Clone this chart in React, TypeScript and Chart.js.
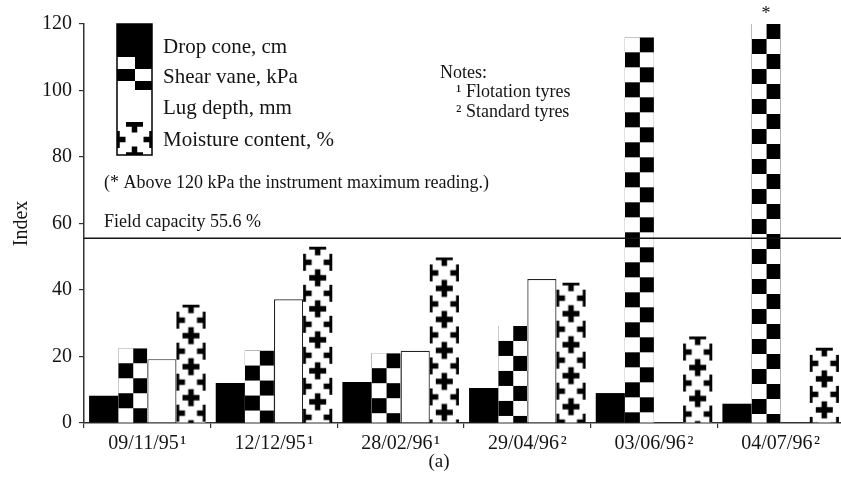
import { useEffect, useRef } from "react";
import { Chart, registerables } from "chart.js";

Chart.register(...registerables);

const categories = ["09/11/95\u200a\u00b9", "12/12/95\u200a\u00b9", "28/02/96\u200a\u00b9", "29/04/96\u200a\u00b2", "03/06/96\u200a\u00b2", "04/07/96\u200a\u00b2"];
const seriesNames = ["Drop cone, cm", "Shear vane, kPa", "Lug depth, mm", "Moisture content, %"];
const dropCone = [8.2, 12.0, 12.3, 10.5, 9.0, 5.8];
const shearVane = [22.5, 21.8, 21.0, 29.2, 116.0, 120.0];
const lugDepth = [19.2, 37.2, 21.7, 43.3, 0, 0];
const moistureContent = [35.6, 53.0, 49.8, 42.2, 26.0, 22.6];
const fieldCapacity = 55.6;
const fieldCapacityLabel = "Field capacity 55.6 %";
const footnoteText = "(* Above 120 kPa the instrument maximum reading.)";
const notesLines = ["Notes:", "\u00b9 Flotation tyres", "\u00b2 Standard tyres"];
const yTicks = [0, 20, 40, 60, 80, 100, 120];
const yTitle = "Index";
const panelLabel = "(a)";

const FONT = "'Liberation Serif', 'Times New Roman', serif";
const INK = "#141414";

function makeChecker(w: number, h: number) {
  const c = document.createElement("canvas");
  c.width = w;
  c.height = h;
  const g = c.getContext("2d")!;
  g.fillStyle = "#fff";
  g.fillRect(0, 0, w, h);
  g.fillStyle = "#000";
  const hw = Math.round(w / 2);
  const hh = Math.round(h / 2);
  g.fillRect(hw, 0, w - hw, hh);
  g.fillRect(0, hh, hw, h - hh);
  return c;
}

function makeCross(w: number, h: number) {
  const c = document.createElement("canvas");
  c.width = w;
  c.height = h;
  const g = c.getContext("2d")!;
  g.fillStyle = "#fff";
  g.fillRect(0, 0, w, h);
  g.fillStyle = "#000";
  const arm = 8.5;
  const th = 5.5;
  const pts = [
    [w / 2, 0],
    [w / 2, h],
    [0, h / 2],
    [w, h / 2],
  ];
  for (const [x, y] of pts) {
    g.fillRect(x - arm, y - th / 2, arm * 2, th);
    g.fillRect(x - th / 2, y - arm, th, arm * 2);
  }
  return c;
}

export default function App() {
  const ref = useRef<HTMLCanvasElement>(null);

  useEffect(() => {
    const canvas = ref.current!;
    const checkerTile = makeChecker(29, 30);
    const crossTile = makeCross(29, 31);
    const legendChecker = makeChecker(35, 24);
    const legendCross = makeCross(35, 31);

    const patternFn = (tile: HTMLCanvasElement) => (c: any) => c.chart.ctx.createPattern(tile, "repeat");

    const decor = {
      id: "decor",
      beforeDatasetsDraw(chart: any) {
        chart.data.datasets.forEach((_: any, di: number) => {
          const meta = chart.getDatasetMeta(di);
          meta.data.forEach((el: any) => {
            const bg = el.options && el.options.backgroundColor;
            if (bg && typeof bg === "object" && typeof bg.setTransform === "function") {
              const left = el.x - el.width / 2;
              bg.setTransform(new DOMMatrix([1, 0, 0, 1, left, el.y]));
            }
          });
        });
      },
      afterDatasetsDraw(chart: any) {
        const ctx = chart.ctx;
        const { left, right } = chart.chartArea;
        const y = chart.scales.y.getPixelForValue(fieldCapacity);
        ctx.save();
        ctx.strokeStyle = INK;
        ctx.lineWidth = 1.5;
        ctx.beginPath();
        ctx.moveTo(left, y);
        ctx.lineTo(right, y);
        ctx.stroke();

        ctx.fillStyle = INK;
        ctx.textBaseline = "alphabetic";
        ctx.textAlign = "left";
        ctx.font = `18px ${FONT}`;
        ctx.fillText(fieldCapacityLabel, 104, y - 11);
        ctx.textBaseline = "middle";
        ctx.fillText(footnoteText, 104, 183);

        // asterisk over the capped shear vane bar
        const sv = chart.getDatasetMeta(1).data[5];
        ctx.textAlign = "center";
        ctx.font = `18px ${FONT}`;
        ctx.fillText("*", sv.x, sv.y - 10);

        // notes
        ctx.textAlign = "left";
        ctx.font = `18px ${FONT}`;
        ctx.fillText(notesLines[0], 440, 73);
        ctx.fillText(notesLines[1], 456, 92);
        ctx.fillText(notesLines[2], 456, 112);

        // legend
        const lx = 117, lw = 35;
        const tops = [24, 57, 90, 122, 155];
        ctx.fillStyle = "#000";
        ctx.fillRect(lx, tops[0], lw, tops[1] - tops[0]);
        const p1 = ctx.createPattern(legendChecker, "repeat");
        p1.setTransform(new DOMMatrix([1, 0, 0, 1, lx, tops[1]]));
        ctx.fillStyle = p1;
        ctx.fillRect(lx, tops[1], lw, tops[2] - tops[1]);
        ctx.fillStyle = "#fff";
        ctx.fillRect(lx, tops[2], lw, tops[3] - tops[2]);
        const p3 = ctx.createPattern(legendCross, "repeat");
        p3.setTransform(new DOMMatrix([1, 0, 0, 1, lx, tops[3] + 2]));
        ctx.fillStyle = p3;
        ctx.fillRect(lx, tops[3], lw, tops[4] - tops[3]);
        ctx.strokeStyle = "#000";
        ctx.lineWidth = 1.5;
        ctx.strokeRect(lx, tops[0], lw, tops[4] - tops[0]);

        ctx.fillStyle = INK;
        ctx.font = `21px ${FONT}`;
        ctx.textBaseline = "middle";
        const ly = [47, 77, 108, 140];
        seriesNames.forEach((n, i) => ctx.fillText(n, 163, ly[i]));

        // panel label
        ctx.textAlign = "center";
        ctx.font = `19px ${FONT}`;
        ctx.fillText(panelLabel, 439, 462);
        ctx.restore();
      },
    };

    const chart = new Chart(canvas, {
      type: "bar",
      data: {
        labels: categories,
        datasets: [
          { label: seriesNames[0], data: dropCone, backgroundColor: "#000", borderWidth: 0 },
          { label: seriesNames[1], data: shearVane, backgroundColor: patternFn(checkerTile), borderWidth: 0 },
          { label: seriesNames[2], data: lugDepth, backgroundColor: "#fff", borderColor: "#222", borderWidth: 1.2 },
          { label: seriesNames[3], data: moistureContent, backgroundColor: patternFn(crossTile), borderWidth: 0 },
        ],
      },
      options: {
        animation: false,
        responsive: false,
        devicePixelRatio: 1,
        layout: { padding: { top: 24, left: 0, right: 0, bottom: 0 } },
        datasets: { bar: { categoryPercentage: 0.92, barPercentage: 1 } },
        plugins: { legend: { display: false }, tooltip: { enabled: false } },
        scales: {
          x: {
            grid: { offset: true, drawOnChartArea: false, drawTicks: true, tickLength: 5, color: "#333", lineWidth: 1.2 },
            border: { display: true, color: "#333", width: 1.5 },
            ticks: { color: INK, font: { family: FONT, size: 20 }, padding: 4, maxRotation: 0, autoSkip: false },
            afterFit: (s: any) => {
              s.height = 63;
            },
          },
          y: {
            min: 0,
            max: 120,
            afterBuildTicks: (s: any) => {
              s.ticks = yTicks.map((v) => ({ value: v }));
            },
            grid: { drawOnChartArea: false, drawTicks: true, tickLength: 5, color: "#333", lineWidth: 1.2 },
            border: { display: true, color: "#333", width: 1.5 },
            ticks: { color: INK, font: { family: FONT, size: 20 }, padding: 7 },
            title: { display: true, text: yTitle, color: INK, font: { family: FONT, size: 20 }, padding: { top: 10, bottom: 0 } },
            afterFit: (s: any) => {
              s.width = 84;
            },
          },
        },
      },
      plugins: [decor],
    } as any);

    return () => chart.destroy();
  }, []);

  return (
    <div style={{ position: "absolute", left: 0, top: 0, width: 841, height: 486, background: "#fff", overflow: "hidden" }}>
      <canvas ref={ref} width={844} height={486} style={{ display: "block" }} />
    </div>
  );
}
